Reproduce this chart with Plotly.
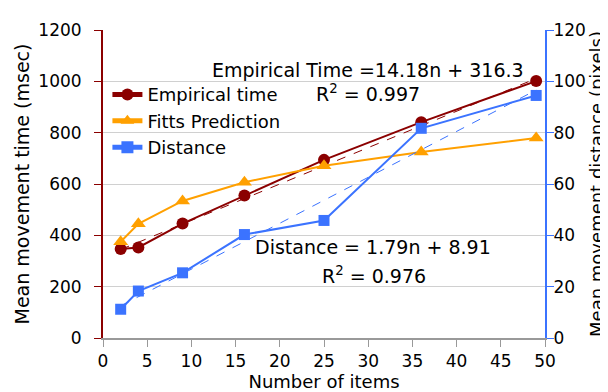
import plotly.graph_objects as go

items = [2, 4, 9, 16, 25, 36, 49]
empirical_time = [347, 353, 446, 555, 694, 841, 1001]
fitts_prediction = [375, 445, 534, 607, 671, 725, 779]
distance = [11.2, 18.3, 25.4, 40.3, 45.8, 81.7, 94.5]

trend_x = [2, 49]
empirical_trend = [344.7, 1011.1]
distance_trend = [12.5, 96.6]

x_ticks = [0, 5, 10, 15, 20, 25, 30, 35, 40, 45, 50]
y_left_ticks = [0, 200, 400, 600, 800, 1000, 1200]
y_right_ticks = [0, 20, 40, 60, 80, 100, 120]

RED = "#8B0000"
ORANGE = "#FFA000"
BLUE = "#3B73FF"
FONT = "DejaVu Sans"
TICK = 17
BIG = 19

fig = go.Figure()
fig.add_trace(go.Scatter(x=trend_x, y=empirical_trend, mode="lines",
                         line=dict(color=RED, width=1, dash="dash"), showlegend=False))
fig.add_trace(go.Scatter(x=trend_x, y=distance_trend, mode="lines", yaxis="y2",
                         line=dict(color=BLUE, width=1, dash="dash"), showlegend=False))
fig.add_trace(go.Scatter(x=items, y=empirical_time, mode="lines+markers", name="Empirical time",
                         line=dict(color=RED, width=2), marker=dict(symbol="circle", size=12, color=RED)))
fig.add_trace(go.Scatter(x=items, y=fitts_prediction, mode="lines+markers", name="Fitts Prediction",
                         line=dict(color=ORANGE, width=2), marker=dict(symbol="triangle-up", size=13, color=ORANGE)))
fig.add_trace(go.Scatter(x=items, y=distance, mode="lines+markers", name="Distance", yaxis="y2",
                         line=dict(color=BLUE, width=2), marker=dict(symbol="square", size=11, color=BLUE)))

fig.update_layout(
    width=608, height=392,
    margin=dict(l=95, r=71, t=20, b=62),
    paper_bgcolor="white", plot_bgcolor="white",
    font=dict(family=FONT, size=BIG, color="black"),
    xaxis=dict(range=[0, 50], tickvals=x_ticks, showgrid=False, zeroline=False,
               showline=True, linecolor="#999999", linewidth=2, ticks="outside",
               tickcolor="#999999", ticklen=7, tickfont=dict(size=TICK), ticklabelstandoff=0,
               title=dict(text="Number of items", font=dict(size=18), standoff=0)),
    yaxis=dict(range=[0, 1200], tickvals=y_left_ticks, showgrid=True, gridcolor="#D0D0D0",
               zeroline=False, showline=True, linecolor=RED, linewidth=2, ticks="outside",
               tickcolor=RED, ticklen=7, tickfont=dict(size=TICK), ticklabelstandoff=9,
               title=dict(text="Mean movement time (msec)", font=dict(size=BIG), standoff=4)),
    yaxis2=dict(range=[0, 120], tickvals=y_right_ticks, overlaying="y", side="right",
                showgrid=False, zeroline=False, showline=True, linecolor=BLUE, linewidth=2,
                ticks="outside", tickcolor=BLUE, ticklen=7, tickfont=dict(size=TICK),
                ticklabelstandoff=-4,
                title=dict(text="Mean movement distance (pixels)", font=dict(size=18), standoff=0)),
    legend=dict(x=0.01, y=0.85, xanchor="left", yanchor="top", bgcolor="rgba(0,0,0,0)",
                font=dict(size=18), tracegroupgap=0, itemsizing="constant"),
    showlegend=True,
)

fig.add_annotation(x=0.6, y=0.871, xref="paper", yref="paper",
                   text="Empirical Time =14.18n + 316.3", showarrow=False,
                   font=dict(size=BIG), xanchor="center", yanchor="middle")
fig.add_annotation(x=0.6, y=0.794, xref="paper", yref="paper",
                   text="R<sup>2</sup> = 0.997", showarrow=False,
                   font=dict(size=BIG), xanchor="center", yanchor="middle")
fig.add_annotation(x=0.611, y=0.294, xref="paper", yref="paper",
                   text="Distance = 1.79n + 8.91", showarrow=False,
                   font=dict(size=BIG), xanchor="center", yanchor="middle")
fig.add_annotation(x=0.613, y=0.203, xref="paper", yref="paper",
                   text="R<sup>2</sup> = 0.976", showarrow=False,
                   font=dict(size=BIG), xanchor="center", yanchor="middle")

fig.write_html("out.html")
